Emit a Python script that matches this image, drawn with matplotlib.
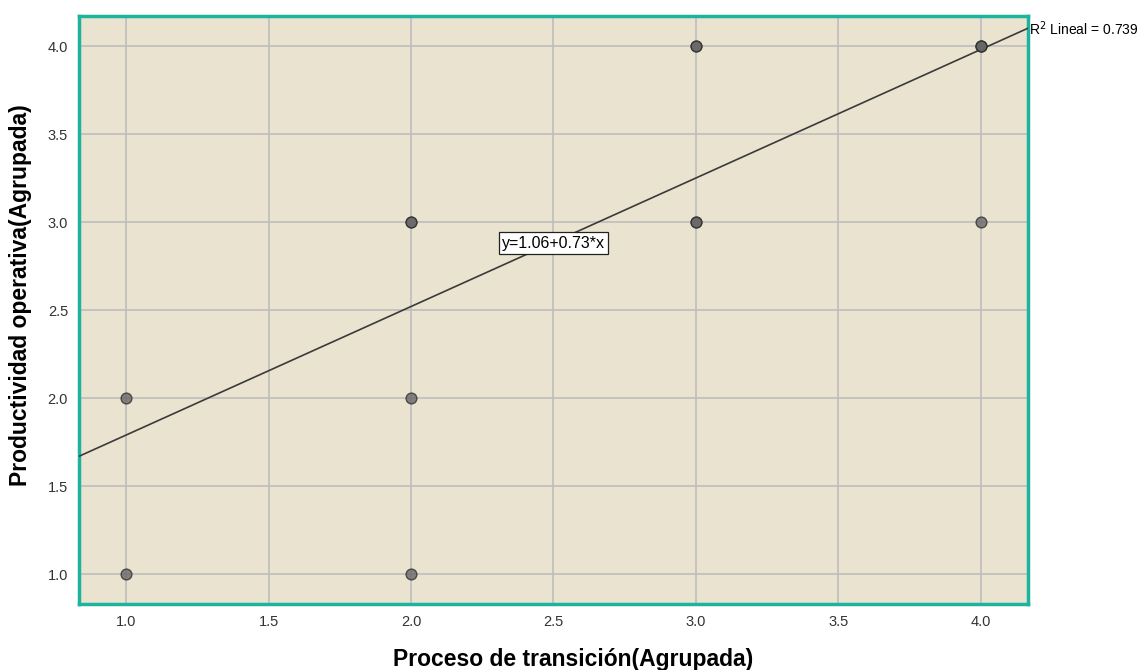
import matplotlib.pyplot as plt
import numpy as np

plt.rcParams['font.family'] = ['Liberation Sans', 'DejaVu Sans']

# observed points (duplicates make darker markers)
x_vals = [1, 1, 2, 2, 2, 2, 3, 3, 3, 3, 4, 4, 4, 4]
y_vals = [1, 2, 1, 2, 3, 3, 3, 3, 4, 4, 3, 4, 4, 4]

intercept = 1.06
slope = 0.73
r2 = 0.739

ticks = [1.0, 1.5, 2.0, 2.5, 3.0, 3.5, 4.0]

fig = plt.figure(figsize=(11.47, 6.70), dpi=100)
ax = fig.add_axes([0.069, 0.0985, 0.827, 0.8775])
ax.set_facecolor('#EAE3CF')

xlim = (0.835, 4.165)
ylim = (0.83, 4.17)
ax.set_xlim(*xlim)
ax.set_ylim(*ylim)

ax.set_xticks(ticks)
ax.set_yticks(ticks)
ax.set_xticklabels([f'{t:.1f}' for t in ticks], fontsize=10.5, color='#333333')
ax.set_yticklabels([f'{t:.1f}' for t in ticks], fontsize=10.5, color='#333333')
ax.tick_params(length=0, pad=8)
ax.grid(True, color='#BDBDBD', linewidth=1.2)
ax.set_axisbelow(True)

for s in ax.spines.values():
    s.set_color('#1DB39C')
    s.set_linewidth(2.5)

# fit line across the full x range
lx = np.array(xlim)
ax.plot(lx, intercept + slope * lx, color='#3A3A3A', linewidth=1.2, zorder=3)

ax.scatter(x_vals, y_vals, s=60, facecolor='#666666', edgecolor='#2E2E2E',
           linewidth=1.0, alpha=0.78, zorder=4)

ax.text(2.5, 2.88, f'y={intercept:.2f}+{slope:.2f}*x', fontsize=11.5, ha='center', va='center',
        bbox=dict(boxstyle='square,pad=0.2', facecolor='white', edgecolor='#222222', linewidth=0.9),
        zorder=5)

ax.text(xlim[1] + 0.005, intercept + slope * xlim[1], f'R$^2$ Lineal = {r2}', fontsize=10,
        ha='left', va='center', clip_on=False)

fig.text(0.5, 0.015, 'Proceso de transición(Agrupada)', fontsize=16.5, fontweight='bold',
         ha='center', va='center')
fig.text(0.018, 0.56, 'Productividad operativa(Agrupada)', fontsize=16.5, fontweight='bold',
         ha='center', va='center', rotation=90)

fig.savefig('out.png', dpi=100)
